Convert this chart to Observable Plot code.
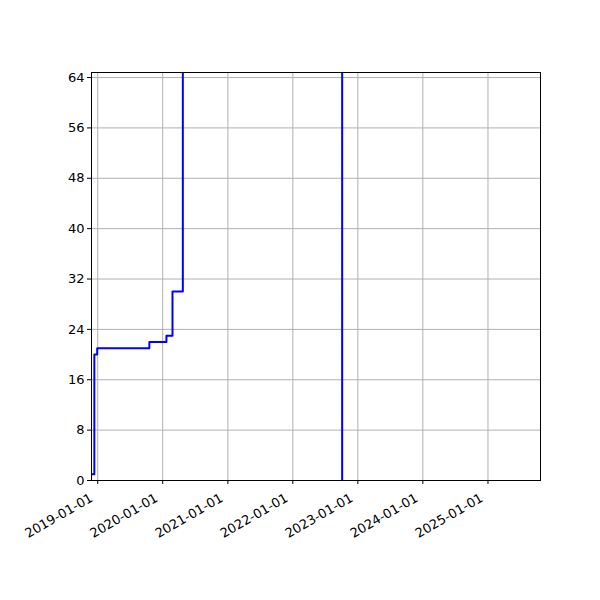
<!DOCTYPE html>
<html>
<head>
<meta charset="utf-8">
<script src="https://cdn.jsdelivr.net/npm/d3@7"></script>
<script src="https://cdn.jsdelivr.net/npm/@observablehq/plot@0.6"></script>
<style>
  body { margin: 0; background: #fff; }
  svg { font-family: "DejaVu Sans", sans-serif; }
</style>
</head>
<body>
<div id="chart"></div>
<script>
// Step series (steps-post)
const dates = ["2018-11-27", "2018-12-13", "2018-12-29", "2019-10-18", "2020-01-22", "2020-02-25", "2020-04-23", "2022-10-05"];
const values = [1, 20, 21, 22, 23, 30, 120, 0];
const xTickLabels = ["2019-01-01", "2020-01-01", "2021-01-01", "2022-01-01", "2023-01-01", "2024-01-01", "2025-01-01"];
const yTicks = [0, 8, 16, 24, 32, 40, 48, 56, 64];
const xDomain = ["2018-11-27", "2025-10-23"];
const yDomain = [0, 64.8];

const parse = d3.utcParse("%Y-%m-%d");
const data = dates.map((d, i) => ({date: parse(d), value: values[i]}));
const xTicks = xTickLabels.map(parse);

const chart = Plot.plot({
  width: 600,
  height: 600,
  marginTop: 72,
  marginBottom: 120,
  marginLeft: 91,
  marginRight: 60,
  style: {fontFamily: "DejaVu Sans, sans-serif", fontSize: "13px", color: "black", background: "white"},
  x: {type: "utc", domain: xDomain.map(parse)},
  y: {domain: yDomain},
  marks: [
    Plot.gridX(xTicks, {stroke: "#b0b0b0", strokeOpacity: 1, strokeWidth: 1}),
    Plot.gridY(yTicks, {stroke: "#b0b0b0", strokeOpacity: 1, strokeWidth: 1}),
    Plot.lineY(data, {x: "date", y: "value", curve: "step-after", stroke: "#0000ff", strokeWidth: 2, clip: true}),
    Plot.frame({stroke: "black", strokeWidth: 1}),
    Plot.axisX(xTicks, {tickFormat: null, text: null, tickSize: 4, label: null, stroke: "black"}),
    Plot.text(xTicks, {x: d => d, frameAnchor: "bottom", text: d3.utcFormat("%Y-%m-%d"), rotate: -30, textAnchor: "end", dx: -4, dy: 20, fill: "black", fontSize: 13}),
    Plot.axisY(yTicks, {tickSize: 4, tickPadding: 3, label: null, stroke: "black", fill: "black", fontSize: 13})
  ]
});
document.getElementById("chart").appendChild(chart);
</script>
</body>
</html>
